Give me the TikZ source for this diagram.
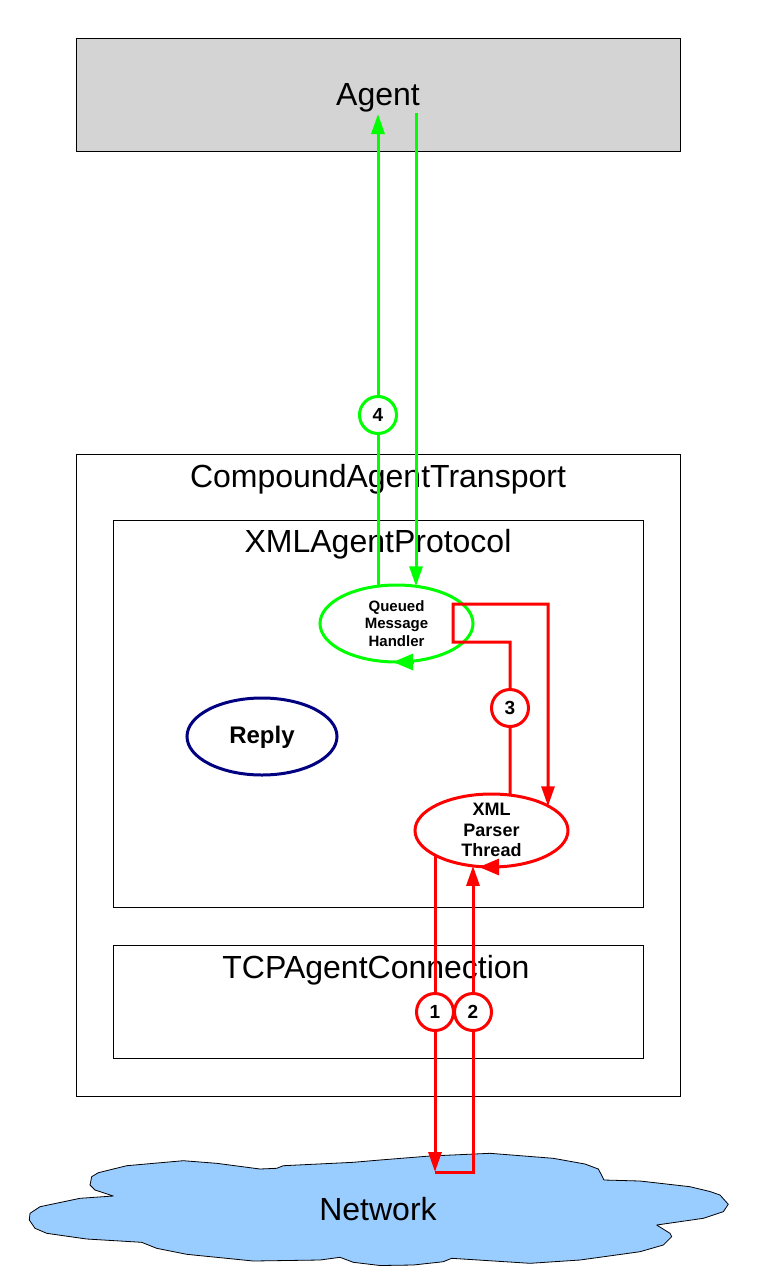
\documentclass[tikz,border=0pt]{standalone}
\usepackage{fontspec}
\setmainfont{Liberation Sans}
\usetikzlibrary{shapes.geometric,arrows.meta}
\definecolor{lgreen}{RGB}{0,255,0}
\definecolor{lred}{RGB}{255,0,0}
\definecolor{navyb}{RGB}{0,0,128}
\definecolor{cloudblue}{RGB}{153,204,255}
\definecolor{agentgray}{RGB}{212,212,212}
\begin{document}
\begin{tikzpicture}[x=1pt,y=-1pt,
  box/.style={draw=black, line width=1pt, inner sep=0pt, anchor=north west},
  big/.style={font=\fontsize{32}{38}\selectfont, anchor=base, inner sep=0pt},
  gline/.style={draw=lgreen, line width=3pt},
  rline/.style={draw=lred, line width=3pt},
  tipa/.style={-{Triangle[length=20pt,width=13pt]}},
  tipb/.style={-{Triangle[length=20pt,width=16pt]}},
  thread/.style={ellipse, line width=3pt, inner sep=0pt, outer sep=0pt},
  num/.style={circle, fill=white, line width=3pt, minimum size=37pt, inner sep=0pt, font=\fontsize{19}{19}\selectfont\bfseries},
]
\useasboundingbox[fill=white] (0,0) rectangle (756,1285);

% boxes
\node[box, fill=agentgray, minimum width=604pt, minimum height=113pt] (agent) at (76,38) {};
\node[big] (agenttext) at (378,105) {Agent};
\node[box, minimum width=604pt, minimum height=642pt] (cat) at (76,454) {};
\node[big] (cattext) at (378,487) {CompoundAgentTransport};
\node[box, minimum width=530pt, minimum height=387pt] (xap) at (113,520) {};
\node[big] (xaptext) at (378,552) {XMLAgentProtocol};
\node[box, minimum width=530pt, minimum height=113pt] (tcp) at (113,945) {};
\node[big] (tcptext) at (376,978) {TCPAgentConnection};

% network cloud
\draw[fill=cloudblue, draw=black, line width=0.8pt, line join=round]
 (113.3,1196) -- (95,1190) -- (90,1185) -- (91.7,1176.7) -- (98.3,1172.7) -- (126.7,1165.7)
 -- (183.3,1160.7) -- (216.7,1163.3) -- (260,1169) -- (276.7,1168.3) -- (283.3,1165.7)
 -- (353.3,1162.3) -- (380,1160) -- (430,1156) -- (490,1153.3) -- (553.3,1158.3)
 -- (585,1164) -- (598.3,1169) -- (601,1174) -- (604,1180) -- (640,1181) -- (690,1186.7)
 -- (710,1191.5) -- (720,1195) -- (728.3,1204.3) -- (723.3,1211.7) -- (703.3,1218.3) -- (656.7,1225)
 -- (670,1233.3) -- (671.7,1236.7) -- (663.3,1245) -- (640,1251.7) -- (580,1260)
 -- (530,1263.3) -- (451.7,1258.3) -- (443.3,1261.7) -- (413.3,1265) -- (380,1265.5)
 -- (353.3,1262.3) -- (340,1257.3) -- (320,1260) -- (253.3,1261) -- (186.7,1254.3)
 -- (156.7,1248.3) -- (141.7,1242.3) -- (86.7,1239) -- (46.7,1233.3) -- (35,1228.3)
 -- (29.3,1220) -- (30,1213.3) -- (40,1206.7) -- (80,1198.3) -- cycle;
\node[big] (nettext) at (378,1220) {Network};
\coordinate (netin) at (435,1172);
\coordinate (netout) at (473,1172);

% threads
\node[thread, draw=lgreen, minimum width=153pt, minimum height=77pt] (qmh) at (396.5,623.5) {};
\node[font=\fontsize{15}{17.5}\selectfont\bfseries, align=center, inner sep=0pt] (qmhtext) at (396.5,623.5) {Queued\\Message\\Handler};
\node[thread, draw=navyb, minimum width=150pt, minimum height=77pt] (reply) at (262,736.5) {};
\node[font=\fontsize{24}{27}\selectfont\bfseries, inner sep=0pt] (replytext) at (262,737) {Reply};
\node[thread, draw=lred, minimum width=153pt, minimum height=73pt] (xml) at (491.5,830.5) {};
\node[font=\fontsize{18}{20.5}\selectfont\bfseries, align=center, inner sep=0pt] (xmltext) at (491.5,830) {XML\\Parser\\Thread};

% thread cycle arrowheads
\draw[gline, tipb] ([xshift=17pt]qmh.south) -- ([xshift=-3.5pt]qmh.south);
\draw[rline, tipb] ([xshift=7.5pt]xml.south) -- ([xshift=-12.5pt]xml.south);

% numbered circles positions
\coordinate (agentin) at (378,114);
\coordinate (agentout) at (416,113);
\coordinate (r3) at (548,604);

% green connectors
\draw[gline, tipa] (agentin |- qmh.116.4) -- (agentin);
\draw[gline, tipa] (agentout) -- (agentout |- qmh.62.3);

% red connectors
\draw[rline, tipa] (510,0 |- xml.62.4) -- ++(0,-153) -| ++(-57,-38) -- (r3) -- (r3 |- xml.23.5);
\draw[rline, tipa] (netin |- xml.203.5) -- (netin);
\draw[rline, tipa] (netin) -- (netout) -- (netout |- xml.242.4);

% numbered circles
\node[num, draw=lgreen] (c4) at (378,415) {4};
\node[num, draw=lred] (c3) at (510,708) {3};
\node[num, draw=lred] (c1) at (435,1012) {1};
\node[num, draw=lred] (c2) at (473,1012) {2};
\end{tikzpicture}
\end{document}
